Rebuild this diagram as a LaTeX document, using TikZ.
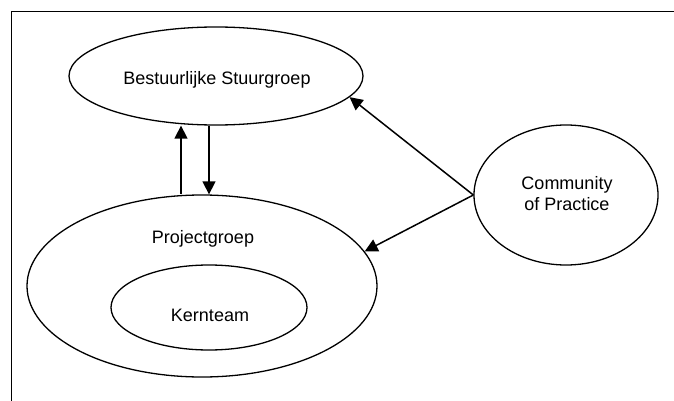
\documentclass[tikz,border=0pt]{standalone}
\usepackage{fontspec}
\setmainfont{Liberation Sans}
\usetikzlibrary{arrows.meta,shapes.geometric}

\begin{document}
\begin{tikzpicture}[
    x=1pt, y=-1pt,
    oval/.style={draw, ellipse, line width=1.3pt, inner sep=0pt},
    txt/.style={font=\fontsize{18}{21}\selectfont, align=center, inner sep=0pt},
    link/.style={-{Triangle[length=13pt,width=13pt]}, line width=1.5pt},
]
  \useasboundingbox (0,0) rectangle (674,401);
  \draw[line width=1.2pt] (11.5,401) -- (11.5,11.5) -- (674,11.5);

  \node[oval, minimum width=294pt, minimum height=98pt] (stuur) at (216,76) {};
  \node[oval, minimum width=350pt, minimum height=182pt] (project) at (202,286) {};
  \node[oval, minimum width=196pt, minimum height=85pt] (kern) at (209,307.5) {};
  \node[oval, minimum width=184pt, minimum height=140pt] (cop) at (566,195) {};

  \node[txt] (stuurtext) at (217,80) {Bestuurlijke Stuurgroep};
  \node[txt] (projecttext) at (203,239) {Projectgroep};
  \node[txt] (kerntext) at (210,315) {Kernteam};
  \node[txt] (coptext) at (567,194) {Community\\of Practice};

  \draw[link] ([xshift=-21pt]project.north) -- ([xshift=-35pt]stuur.south);
  \draw[link] ([xshift=-7pt]stuur.south) -- ([xshift=7pt]project.north);
  \draw[link] (cop.west) -- (stuur.-9);
  \draw[link] (cop.west) -- (project.12.5);
\end{tikzpicture}
\end{document}
